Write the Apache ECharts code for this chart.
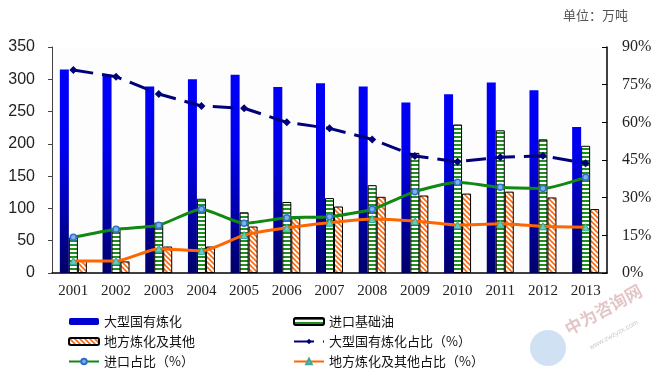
<!DOCTYPE html>
<html><head><meta charset="utf-8">
<script src="https://cdn.jsdelivr.net/npm/echarts@6/dist/echarts.min.js"></script>
<style>html,body{margin:0;padding:0;background:#fff}#c{width:659px;height:371px}</style>
</head><body><div id="c"></div>
<script>
var years = ['2001','2002','2003','2004','2005','2006','2007','2008','2009','2010','2011','2012','2013'];
var stateRefining = [315,307,289,300,307,288,294,289,264,277,295,283,226];
var importBaseOil = [55,68,78,115,94,110,116,136,186,230,221,207,197];
var localOthers = [19,18,41,41,72,85,103,118,120,123,126,117,99];
var stateShare = [80.8,78.2,71.3,66.5,65.6,60.0,57.6,53.2,46.6,44.3,46.1,46.7,43.7];
var importShare = [14.2,17.4,19.0,25.4,19.8,22.0,22.4,25.4,32.4,36.1,34.1,33.7,38.1];
var localShare = [4.8,4.8,9.7,8.8,15.1,18.0,20.0,21.5,20.7,19.1,19.6,18.6,18.2];
var leftTicks = {min:0, max:350, interval:50};
var rightTicks = {min:0, max:90, interval:15};

function stripeCanvas(){
  var c = document.createElement('canvas'); c.width = 4; c.height = 4;
  var g = c.getContext('2d');
  g.fillStyle = '#ffffff'; g.fillRect(0,0,4,4);
  g.fillStyle = '#1f8f1f'; g.fillRect(0,0,4,2);
  return c;
}
function hatchCanvas(){
  var c = document.createElement('canvas'); c.width = 5; c.height = 5;
  var g = c.getContext('2d');
  g.fillStyle = '#ffffff'; g.fillRect(0,0,5,5);
  g.strokeStyle = '#ff6a10'; g.lineWidth = 1.6;
  g.beginPath();
  g.moveTo(-1,-1); g.lineTo(6,6);
  g.moveTo(-1,4); g.lineTo(1,6);
  g.moveTo(4,-1); g.lineTo(6,1);
  g.stroke();
  return c;
}
var greenPattern = {image: stripeCanvas(), repeat: 'repeat'};
var orangePattern = {image: hatchCanvas(), repeat: 'repeat'};
var blueGrad = {type:'linear', x:0, y:47, x2:0, y2:273, global:true,
  colorStops:[{offset:0,color:'#0000ff'},{offset:0.45,color:'#0000ee'},{offset:1,color:'#00006a'}]};

var chart = echarts.init(document.getElementById('c'), null, {renderer:'canvas'});
var axisFont = 'Liberation Serif';
var legendText = {fontFamily:'Noto Sans CJK SC', fontSize:13, color:'#111'};
chart.setOption({
  animation:false,
  backgroundColor:'#ffffff',
  grid:{left:52, right:52, top:47, bottom:98, show:true, backgroundColor:'#fdfdfd', borderWidth:0},
  graphic:[
    {type:'text', left:563, top:9, style:{text:'单位：万吨', fontFamily:'Noto Sans CJK SC', fontSize:13, fill:'#555'}},
    {type:'circle', shape:{cx:548, cy:348, r:18}, style:{fill:'rgba(120,170,220,0.35)'}},
    {type:'text', x:566, y:330, rotation:0.5, style:{text:'中为咨询网', fontFamily:'Noto Sans CJK SC', fontSize:17, fontWeight:'bold', fill:'rgba(150,50,50,0.28)', textVerticalAlign:'middle'}},
    {type:'text', x:590, y:348, rotation:0.5, style:{text:'www.zwzyzx.com', fontFamily:'Liberation Sans', fontSize:7, fill:'rgba(120,120,120,0.4)', textVerticalAlign:'middle'}}
  ],
  legend:[
    {orient:'vertical', left:68, top:315, height:62, padding:0, itemWidth:30, itemHeight:7, itemGap:7, textStyle:legendText,
     data:[{name:'大型国有炼化', itemStyle:{color:'#0000d0'}}, '地方炼化及其他', '进口占比（%）']},
    {orient:'vertical', left:293, top:315, height:62, padding:0, itemWidth:30, itemHeight:7, itemGap:7, textStyle:legendText,
     data:['进口基础油', '大型国有炼化占比（%）', '地方炼化及其他占比（%）']}
  ],
  xAxis:{type:'category', data:years, boundaryGap:true,
    axisLine:{lineStyle:{color:'#000', width:1.5}},
    axisTick:{inside:true, length:5, lineStyle:{color:'#000'}},
    axisLabel:{fontFamily:axisFont, fontSize:15, color:'#222', margin:11},
    splitLine:{show:false}},
  yAxis:[
    {type:'value', min:leftTicks.min, max:leftTicks.max, interval:leftTicks.interval,
     axisLine:{show:true, lineStyle:{color:'#444', width:1}},
     axisTick:{show:true, length:4, lineStyle:{color:'#444'}},
     axisLabel:{fontFamily:'Liberation Sans', fontSize:16, color:'#222', margin:17},
     splitLine:{show:false}},
    {type:'value', min:rightTicks.min, max:rightTicks.max, interval:rightTicks.interval, position:'right',
     axisLine:{show:true, lineStyle:{color:'#000', width:1.5}},
     axisTick:{show:true, inside:true, length:5, lineStyle:{color:'#000'}},
     axisLabel:{fontFamily:axisFont, fontSize:16, color:'#222', margin:15, formatter:'{value}%'},
     splitLine:{show:false}}
  ],
  series:[
    {name:'大型国有炼化', type:'bar', data:stateRefining, barWidth:9, barGap:'0%',
     itemStyle:{color:blueGrad}},
    {name:'进口基础油', type:'bar', data:importBaseOil, barWidth:9, barGap:'0%',
     itemStyle:{color:greenPattern, borderColor:'#000', borderWidth:1}},
    {name:'地方炼化及其他', type:'bar', data:localOthers, barWidth:9, barGap:'0%',
     itemStyle:{color:orangePattern, borderColor:'#000', borderWidth:1}},
    {name:'大型国有炼化占比（%）', type:'line', yAxisIndex:1, data:stateShare, symbol:'diamond', symbolSize:8,
     lineStyle:{color:'#00007a', width:3, type:[20,9]}, itemStyle:{color:'#00007a'}, z:5},
    {name:'进口占比（%）', type:'line', yAxisIndex:1, data:importShare, symbol:'circle', symbolSize:6, smooth:0.2,
     lineStyle:{color:'#118811', width:3}, itemStyle:{color:'#7fb0e8', borderColor:'#2f6fd0', borderWidth:1.5}, z:5},
    {name:'地方炼化及其他占比（%）', type:'line', yAxisIndex:1, data:localShare, symbol:'triangle', symbolSize:7, smooth:0.2,
     lineStyle:{color:'#ff6600', width:3}, itemStyle:{color:'#66ccbb', borderColor:'#3aa89a', borderWidth:1}, z:5}
  ]
});
</script></body></html>
